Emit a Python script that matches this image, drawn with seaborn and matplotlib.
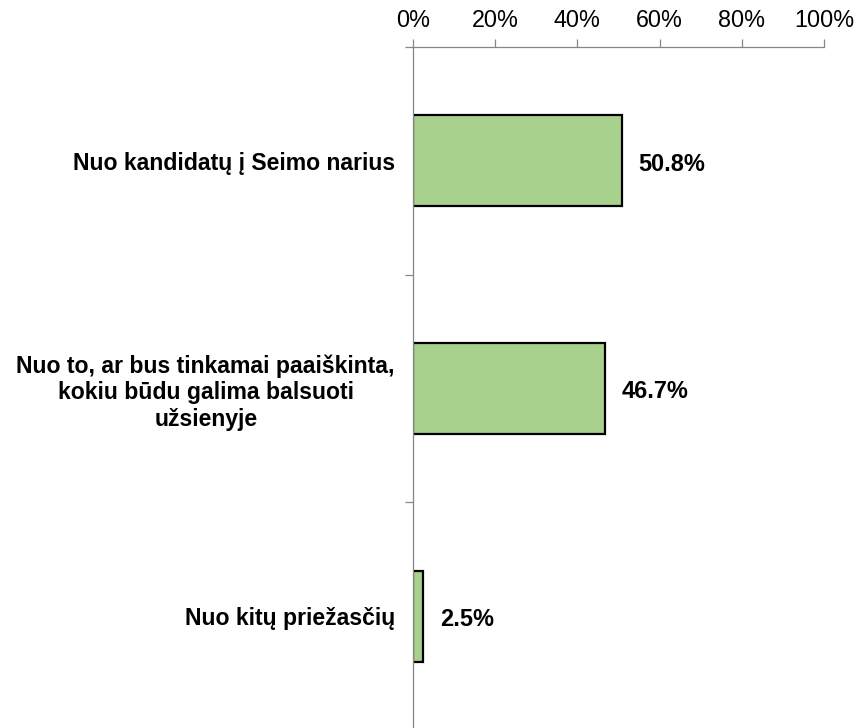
import matplotlib
matplotlib.use("Agg")
import matplotlib.pyplot as plt
import seaborn as sns
import pandas as pd
from matplotlib.ticker import FixedLocator, FuncFormatter

categories = [
    "Nuo kandidatų į Seimo narius",
    "Nuo to, ar bus tinkamai paaiškinta,\nkokiu būdu galima balsuoti\nužsienyje",
    "Nuo kitų priežasčių",
]
values = [50.8, 46.7, 2.5]
x_ticks = [0, 20, 40, 60, 80, 100]

sns.set_style("white")
plt.rcParams["font.family"] = ["Liberation Sans", "DejaVu Sans"]
plt.rcParams["text.color"] = "black"
plt.rcParams["xtick.labelcolor"] = "black"
plt.rcParams["ytick.labelcolor"] = "black"

df = pd.DataFrame({"category": categories, "value": values})

fig = plt.figure(figsize=(8.57, 7.28), dpi=100)
ax = fig.add_axes([413 / 857, -2 / 728, 411 / 857, 683 / 728])

sns.barplot(data=df, x="value", y="category", orient="h", color="#A9D18E",
            saturation=1, width=0.4, edgecolor="black", linewidth=1.6, ax=ax)

ax.set_xlim(0, 100)
ax.set_ylim(2.5, -0.5)
ax.xaxis.tick_top()
ax.xaxis.set_label_position("top")
ax.set_xticks(x_ticks)
ax.xaxis.set_major_formatter(FuncFormatter(lambda v, p: f"{v:.0f}%"))
ax.tick_params(axis="x", which="major", top=True, bottom=False, length=6,
               width=0.9, color="#868686", pad=4.5, labelsize=16.8,
               labelcolor="black")

ax.set_yticks([0, 1, 2])
ax.set_yticklabels(categories, fontweight="bold", fontsize=16.6,
                   multialignment="center", linespacing=1.18, color="black")
ax.yaxis.set_minor_locator(FixedLocator([-0.5, 0.5, 1.5, 2.5]))
ax.tick_params(axis="y", which="major", length=0, pad=13)
ax.tick_params(axis="y", which="minor", left=True, length=6, width=0.9,
               color="#868686")

for s in ["bottom", "right"]:
    ax.spines[s].set_visible(False)
for s in ["top", "left"]:
    ax.spines[s].set_color("#868686")
    ax.spines[s].set_linewidth(0.9)

ax.set_xlabel("")
ax.set_ylabel("")
ax.grid(False)

anns = ax.bar_label(ax.containers[0], labels=[f"{v:.1f}%" for v in values],
                    padding=12, fontsize=16.9, fontweight="bold", color="black")
for a in anns:
    a.xyann = (12, -2.5)

fig.savefig("out.png", dpi=100)
